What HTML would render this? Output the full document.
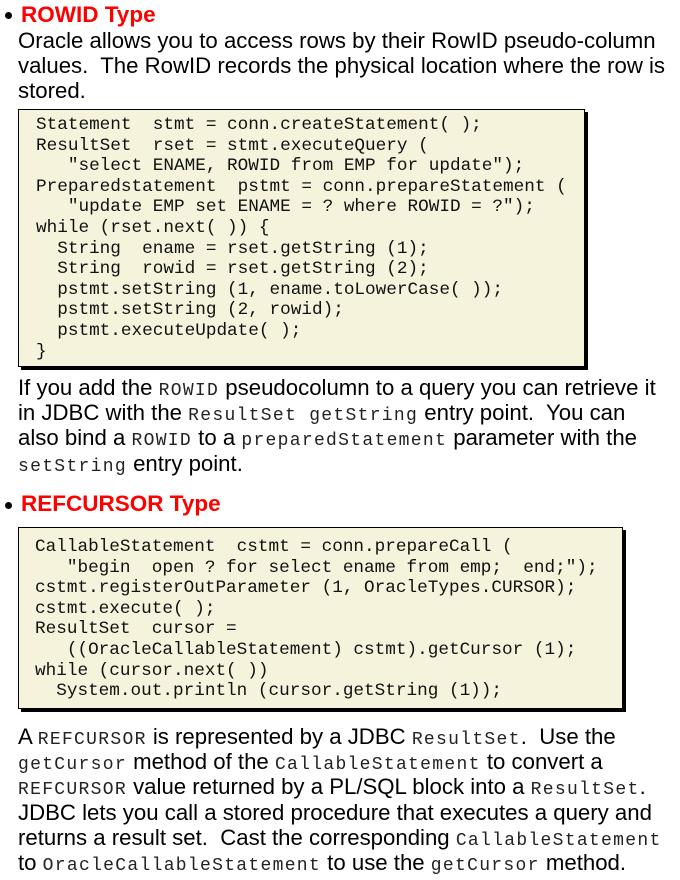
<!DOCTYPE html>
<html><head><meta charset="utf-8"><style>
body{margin:0;width:680px;height:880px;background:#fff;position:relative;overflow:hidden;font-family:"Liberation Sans",Arial,sans-serif;color:#000}
.a{position:absolute;white-space:pre}
.h{font-weight:bold;color:#ff0000;font-size:22.5px}
.p{font-size:22.2px;line-height:25.2px}
.c{font-family:"Liberation Mono","Courier New",monospace;font-size:18px;line-height:18px;letter-spacing:1.3px;color:#222}
.box{position:absolute;background:#f5f3dc;border:1px solid #000;box-shadow:3px 3px 0 #000}
.code{position:absolute;font-family:"Liberation Mono","Courier New",monospace;font-size:17.7px;line-height:20.6px;white-space:pre;color:#111}
.dot{position:absolute;width:7px;height:7px;border-radius:50%;background:#000}
</style></head><body>
<div class="dot" style="left:5px;top:12px"></div>
<div class="a h" style="left:21px;top:2px">ROWID Type</div>
<div class="a p" style="left:18px;top:28px">Oracle allows you to access rows by their RowID pseudo-column
values.  The RowID records the physical location where the row is
stored.</div>
<div class="box" style="left:18px;top:109px;width:565px;height:256px"></div>
<div class="code" style="left:36px;top:115px">Statement  stmt = conn.createStatement( );
ResultSet  rset = stmt.executeQuery (
   "select ENAME, ROWID from EMP for update");
Preparedstatement  pstmt = conn.prepareStatement (
   "update EMP set ENAME = ? where ROWID = ?");
while (rset.next( )) {
  String  ename = rset.getString (1);
  String  rowid = rset.getString (2);
  pstmt.setString (1, ename.toLowerCase( ));
  pstmt.setString (2, rowid);
  pstmt.executeUpdate( );
}</div>
<div class="a p" style="left:18px;top:375px">If you add the <span class="c">ROWID</span> pseudocolumn to a query you can retrieve it
in JDBC with the <span class="c">ResultSet getString</span> entry point.  You can
also bind a <span class="c">ROWID</span> to a <span class="c">preparedStatement</span> parameter with the
<span class="c">setString</span> entry point.</div>
<div class="dot" style="left:5px;top:502px"></div>
<div class="a h" style="left:21px;top:491px">REFCURSOR Type</div>
<div class="box" style="left:18px;top:527px;width:603px;height:180px"></div>
<div class="code" style="left:35px;top:537px">CallableStatement  cstmt = conn.prepareCall (
   "begin  open ? for select ename from emp;  end;");
cstmt.registerOutParameter (1, OracleTypes.CURSOR);
cstmt.execute( );
ResultSet  cursor =
   ((OracleCallableStatement) cstmt).getCursor (1);
while (cursor.next( ))
  System.out.println (cursor.getString (1));</div>
<div class="a p" style="left:18px;top:724px">A <span class="c">REFCURSOR</span> is represented by a JDBC <span class="c">ResultSet</span>.  Use the
<span class="c">getCursor</span> method of the <span class="c">CallableStatement</span> to convert a
<span class="c">REFCURSOR</span> value returned by a PL/SQL block into a <span class="c">ResultSet</span>.
JDBC lets you call a stored procedure that executes a query and
returns a result set.  Cast the corresponding <span class="c">CallableStatement</span>
to <span class="c">OracleCallableStatement</span> to use the <span class="c">getCursor</span> method.</div>
</body></html>
